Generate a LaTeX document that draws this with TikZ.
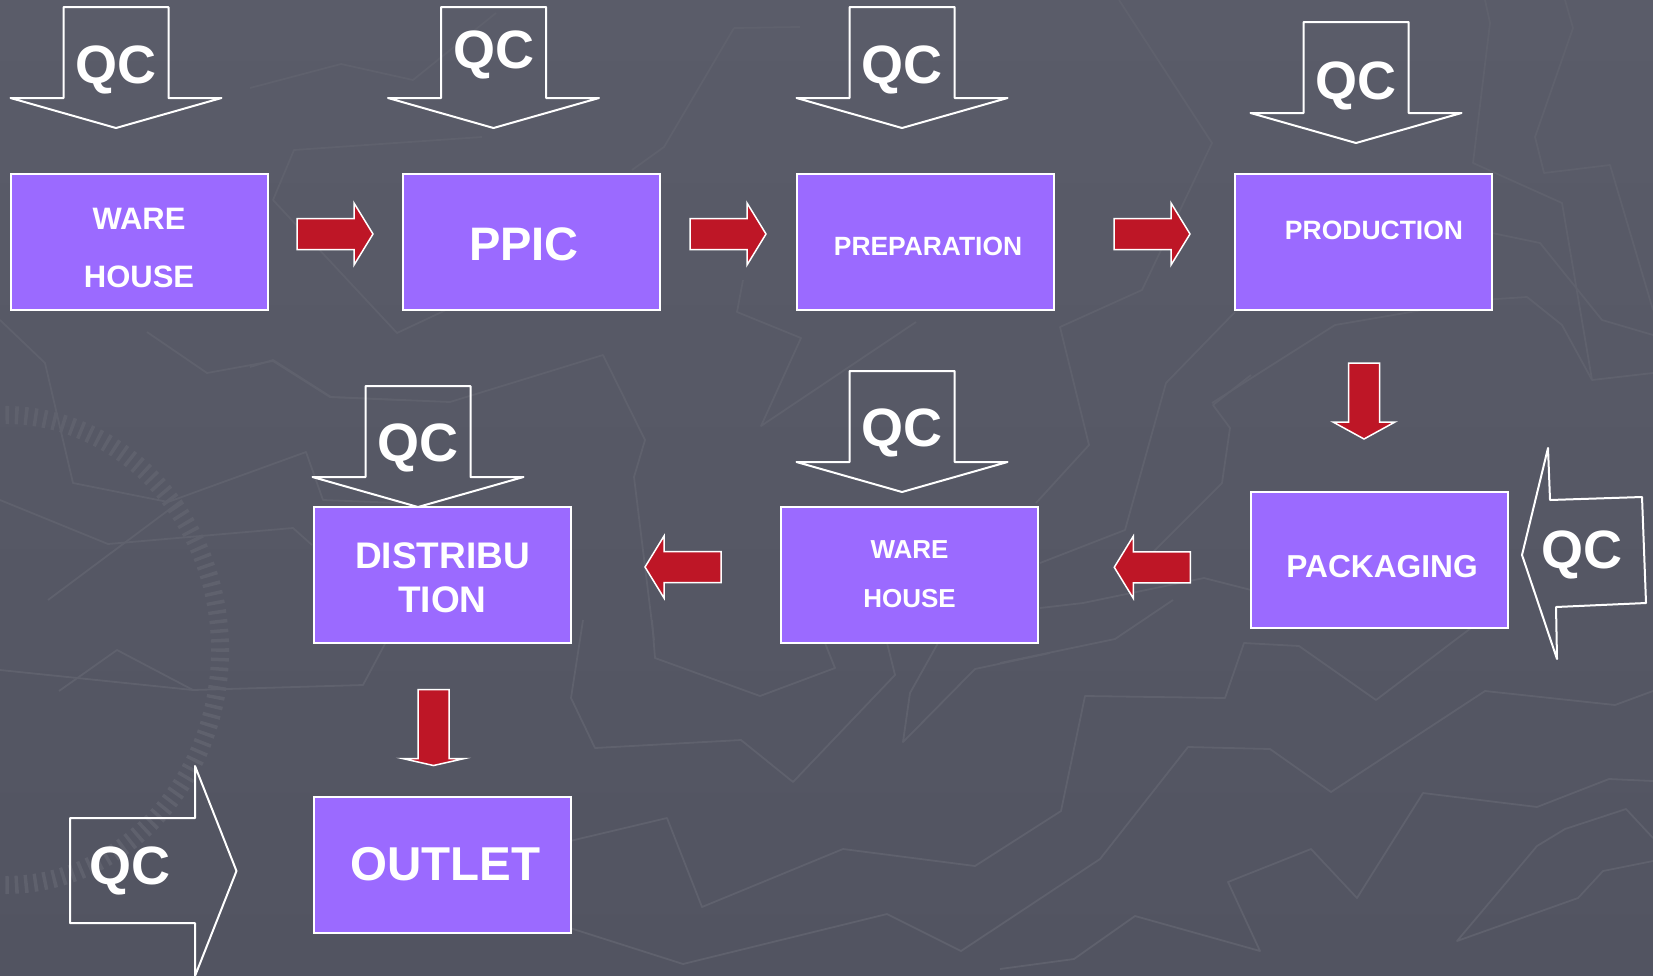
\documentclass[tikz,border=0pt]{standalone}
\usepackage{fontspec}
\setmainfont{Liberation Sans}
\usetikzlibrary{positioning}
\usetikzlibrary{calc}

\definecolor{fundoA}{HTML}{5A5C69}
\definecolor{fundoB}{HTML}{525461}
\definecolor{linhas}{HTML}{5F616D}
\definecolor{roxo}{HTML}{9B6AFF}
\definecolor{vermelho}{HTML}{BE1626}

\begin{document}
\begin{tikzpicture}[x=1pt, y=-1pt,
        box/.style={draw=white, line width=2pt, fill=roxo,
                    minimum width=257pt, minimum height=136pt, inner sep=0pt},
        lbl/.style={text=white, align=center, inner sep=0pt},
        textura/.style={draw=linhas, line width=1.8pt, line join=round},
        qcline/.style={draw=white, line width=2pt, line join=round},
        qc/.style={text=white, inner sep=0pt, font=\bfseries\fontsize{54}{54}\selectfont},
        qcdown/.pic={
            \draw[qcline] (-52.5,0) -- (52.5,0) -- (52.5,91) -- (105.5,91) -- (0,121)
                -- (-105.5,91) -- (-52.5,91) -- cycle;
            \node[qc] (-txt) at (0,#1) {QC};
        },
        blockarrow/.pic={
            \draw[draw=white, line width=1.5pt, fill=vermelho] (-38,-15.5) -- (38-#1,-15.5)
                -- (38-#1,-31) -- (38,0) -- (38-#1,31) -- (38-#1,15.5) -- (-38,15.5) -- cycle;
        }]
    \useasboundingbox (0,0) rectangle (1653,975);
    \shade[top color=fundoA, bottom color=fundoB] (0,0) rectangle (1653,975);

    % fundo: linhas do mapa
    \draw[textura] (250,88) -- (341,64) -- (413,80) -- (496,13);
    \draw[textura] (273,200) -- (294,150) -- (482,137);
    \draw[textura] (273,200) -- (397,333) -- (446,310);
    \draw[textura] (734,28) -- (800,27);
    \draw[textura] (734,28) -- (664,147) -- (632,170);
    \draw[textura] (250,367) -- (273,360) -- (331,397) -- (450,402) -- (603,355)
        -- (645,440) -- (634,477) -- (654,640);
    \draw[textura] (0,320) -- (45,363) -- (73,483) -- (168,502) -- (306,452) -- (323,500) -- (400,503);
    \draw[textura] (147,332) -- (207,373) -- (273,361) -- (330,397) -- (400,400);
    \draw[textura] (0,500) -- (108,544) -- (293,528) -- (312,545);
    \draw[textura] (48,600) -- (182,500);
    \draw[textura] (0,670) -- (193,690) -- (363,685) -- (387,640);
    \draw[textura] (59,691) -- (117,650) -- (193,690);
    \draw[textura] (743,280) -- (737,312) -- (801,338) -- (761,426) -- (916,322);
    \draw[textura] (1119,0) -- (1212,143) -- (1142,290) -- (1060,327) -- (1089,445) -- (1036,503);
    \draw[textura] (1235,312) -- (1166,383) -- (1125,530) -- (1040,563);
    \draw[textura] (1251,375) -- (1213,405) -- (1230,428) -- (1222,483) -- (1125,580);
    \draw[textura] (1040,608) -- (1083,603) -- (1204,578) -- (1251,590);
    \draw[textura] (1485,0) -- (1490,23) -- (1473,163) -- (1562,203) -- (1592,380) -- (1653,373);
    \draw[textura] (1565,0) -- (1573,28) -- (1535,137) -- (1544,173) -- (1610,165) -- (1653,310);
    \draw[textura] (1212,403) -- (1335,325) -- (1481,300) -- (1527,297) -- (1562,325) -- (1592,380);
    \draw[textura] (1492,233) -- (1540,243) -- (1602,320) -- (1653,335);
    \draw[textura] (583,620) -- (571,698) -- (595,748) -- (741,740) -- (793,782) -- (895,675) -- (887,643);
    \draw[textura] (652,620) -- (655,658) -- (760,696) -- (835,668) -- (825,643);
    \draw[textura] (938,643) -- (910,693) -- (903,742) -- (975,669) -- (1050,653);
    \draw[textura] (1000,663) -- (1115,639) -- (1173,600);
    \draw[textura] (570,841) -- (667,818) -- (702,907) -- (843,849) -- (975,866) -- (1061,811)
        -- (1085,696) -- (1225,698) -- (1244,643) -- (1299,646) -- (1376,700) -- (1471,628);
    \draw[textura] (570,928) -- (683,964) -- (887,914) -- (961,951) -- (1100,859) -- (1188,747)
        -- (1270,749) -- (1331,792) -- (1485,691) -- (1615,705) -- (1653,691);
    \draw[textura] (1000,969) -- (1074,959) -- (1135,916) -- (1260,951) -- (1228,882) -- (1311,849)
        -- (1357,898) -- (1423,793) -- (1537,807) -- (1609,779) -- (1653,781);
    \draw[textura] (1653,838) -- (1626,809) -- (1565,829) -- (1537,846) -- (1457,941)
        -- (1578,898) -- (1603,871) -- (1653,861);
    % bussola
    \draw[linhas, line width=18pt, dash pattern=on 3.5pt off 6pt]
        (5,650) ++(-100:215 and 235) arc[start angle=-100, end angle=115, x radius=215, y radius=235];

    % Linha de cima
    \node[box] (ware1) at (139,242) {};
    \node[box, right=133pt of ware1] (ppic) {};
    \node[box, right=135pt of ppic] (prep) {};
    \node[box, right=179pt of prep] (prod) {};

    \node[lbl, font=\bfseries\fontsize{31}{58}\selectfont] (ware1txt)
        at ([shift={(0,6)}]ware1.center) {WARE\\HOUSE};
    \node[lbl, font=\bfseries\fontsize{47}{47}\selectfont] (ppictxt)
        at ([shift={(-7,2)}]ppic.center) {PPIC};
    \node[lbl, font=\bfseries\fontsize{26.4}{30}\selectfont] (preptxt)
        at ([shift={(3,4)}]prep.center) {PREPARATION};
    \node[lbl, font=\bfseries\fontsize{26.5}{30}\selectfont] (prodtxt)
        at ([shift={(11,-12)}]prod.center) {PRODUCTION};

    \pic (qc1) at (116,7) {qcdown=63};
    \pic (qc2) at (493.5,7) {qcdown=48};
    \pic (qc3) at (902,7) {qcdown=63};
    \pic (qc4) at (1356,22) {qcdown=64};

    \pic (a1) at ($(ware1.east)!.5!(ppic.west) + (0,-8)$) {blockarrow=19};
    \pic (a2) at ($(ppic.east)!.5!(prep.west) + (0,-8)$) {blockarrow=19};
    \pic (a3) at ($(prep.east)!.5!(prod.west) + (8,-8)$) {blockarrow=19};

    % Linha de baixo
    \node[box] (pack) at (1379,560) {};
    \node[box] (ware2) at (909.5,574.5) {};
    \node[box, left=208pt of ware2] (dist) {};
    \node[box, below=152pt of dist] (outlet) {};

    \node[lbl, font=\bfseries\fontsize{31.7}{32}\selectfont] (packtxt)
        at ([shift={(3,7)}]pack.center) {PACKAGING};
    \node[lbl, font=\bfseries\fontsize{26}{49}\selectfont] (ware2txt)
        at (ware2.center) {WARE\\HOUSE};
    \node[lbl, font=\bfseries\fontsize{37}{44}\selectfont] (disttxt)
        at ([shift={(0,3)}]dist.center) {DISTRIBU\\TION};
    \node[lbl, font=\bfseries\fontsize{47.5}{48}\selectfont] (outlettxt)
        at ([shift={(3,0)}]outlet.center) {OUTLET};

    \pic (qc5) at (418,386) {qcdown=62};
    \pic (qc6) at (902,371) {qcdown=62};

    \draw[qcline] (1522,555) -- (1548,448) -- (1550,500) -- (1642,497) -- (1646,603)
        -- (1556,607) -- (1557,659) -- cycle;
    \node[qc] (qc7) at (1582,555) {QC};

    \draw[qcline] (70,818) -- (195,818) -- (195,766) -- (236.5,871) -- (195,976)
        -- (195,923) -- (70,923) -- cycle;
    \node[qc] (qc8) at (130,871) {QC};

    \pic[rotate=-90] (a4) at ($(prod.south)!.5!(pack.north) + (-7,0)$) {blockarrow=17};
    \pic[rotate=180] (a5) at ($(ware2.east)!.5!(pack.west) + (8,0)$) {blockarrow=19};
    \pic[rotate=180] (a6) at ($(dist.east)!.5!(ware2.west) + (7,-7.5)$) {blockarrow=19};
    \pic[rotate=-90] (a7) at ($(dist.south)!.5!(outlet.north) + (-9,8)$) {blockarrow=7};
\end{tikzpicture}
\end{document}
